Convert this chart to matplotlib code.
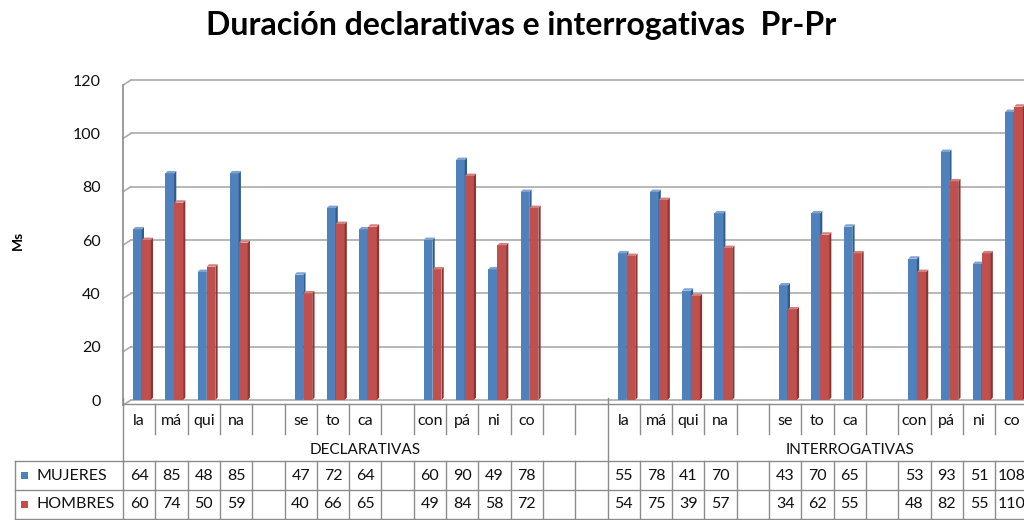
import numpy as np
import matplotlib
matplotlib.use('Agg')
import matplotlib.pyplot as plt
from matplotlib.patches import Polygon, Rectangle
from matplotlib.lines import Line2D

plt.rcParams['font.family'] = ['Lato', 'DejaVu Sans']

TITLE      = 'Duración declarativas e interrogativas  Pr-Pr'
Y_LABEL    = 'Ms'
GROUPS     = ['DECLARATIVAS', 'INTERROGATIVAS']
SYLLABLES  = ['la', 'má', 'qui', 'na', '', 'se', 'to', 'ca', '', 'con', 'pá', 'ni', 'co', '', '']
SERIES     = ['MUJERES', 'HOMBRES']
MUJ_DECL   = [64, 85, 48, 85, None, 47, 72, 64, None, 60, 90, 49, 78, None, None]
HOM_DECL   = [60, 74, 50, 59, None, 40, 66, 65, None, 49, 84, 58, 72, None, None]
MUJ_INT    = [55, 78, 41, 70, None, 43, 70, 65, None, 53, 93, 51, 108, None, None]
HOM_INT    = [54, 75, 39, 57, None, 34, 62, 55, None, 48, 82, 55, 110, None, None]
Y_TICKS    = [0, 20, 40, 60, 80, 100, 120]

BLUE      = '#4F81BD'
BLUE_DK   = '#2F5B8F'
BLUE_LT   = '#7FA3D0'
RED       = '#C0504D'
RED_DK    = '#8C3633'
RED_LT    = '#D47F7C'
GRID      = '#ABABAB'
TXT       = '#111111'

W, H = 1024, 520
X0, COLW = 123, 32.3
NCOL = len(SYLLABLES) * len(GROUPS)


def fx(x):
    return x / W


def fy(y):
    return 1 - y / H


def hline(fig, x1, x2, y, **kw):
    fig.add_artist(Line2D([fx(x1), fx(x2)], [fy(y), fy(y)], color=kw.get('color', '#8C8C8C'),
                          lw=kw.get('lw', 1.0)))


def vline(fig, x, y1, y2, **kw):
    fig.add_artist(Line2D([fx(x), fx(x)], [fy(y1), fy(y2)], color=kw.get('color', '#8C8C8C'),
                          lw=kw.get('lw', 1.0)))


fig = plt.figure(figsize=(W / 100, H / 100), dpi=100)
ax = fig.add_axes([fx(X0), fy(400), NCOL * COLW / W, 320 / H])
ax.set_xlim(-0.5, NCOL - 0.5)
ax.set_ylim(0, 120)
for s in ax.spines.values():
    s.set_visible(False)
ax.set_xticks([])
ax.set_yticks(Y_TICKS)
ax.set_yticklabels([str(t) for t in Y_TICKS], fontsize=11.5, color=TXT)
ax.tick_params(axis='y', length=0, pad=16)
ax.patch.set_alpha(0)

# 3D-ish walls: gridlines with a perspective kink at the left
DX, DY = 0.25, 1.9
for v in Y_TICKS:
    ax.plot([-0.5, -0.5 + DX], [v - DY, v], color=GRID, lw=1.2, clip_on=False, zorder=1)
    ax.plot([-0.5 + DX, NCOL - 0.5], [v, v], color=GRID, lw=1.2, clip_on=False, zorder=1)
ax.plot([-0.5, -0.5], [-DY, 120 - DY], color='#8C8C8C', lw=1.2, clip_on=False, zorder=1)

mujeres = MUJ_DECL + MUJ_INT
hombres = HOM_DECL + HOM_INT


def bar3d(ax, left, width, v, face, side, top):
    dxb, dyb = 0.07, 0.9
    ax.add_patch(Rectangle((left, 0), width, v, facecolor=face, edgecolor='none', zorder=3))
    ax.add_patch(Polygon([(left + width, 0), (left + width + dxb, dyb),
                          (left + width + dxb, v + dyb), (left + width, v)],
                         closed=True, facecolor=side, edgecolor='none', zorder=3))
    ax.add_patch(Polygon([(left, v), (left + dxb, v + dyb), (left + width + dxb, v + dyb),
                          (left + width, v)],
                         closed=True, facecolor=top, edgecolor='none', zorder=3))


for i in range(NCOL):
    if mujeres[i] is not None:
        bar3d(ax, i - 0.19, 0.27, mujeres[i], BLUE, BLUE_DK, BLUE_LT)
    if hombres[i] is not None:
        bar3d(ax, i + 0.09, 0.27, hombres[i], RED, RED_DK, RED_LT)

# title and axis label
fig.text(fx(521), fy(25), TITLE, ha='center', va='center', fontsize=23, fontweight='bold',
         color='black')
fig.text(fx(18), fy(240), Y_LABEL, ha='center', va='center', rotation=90, fontsize=10,
         fontweight='bold', color='black')

# data table underneath
ROW_TOP, ROW_CAT, ROW_GRP, ROW_M, ROW_H = 404, 434, 461, 490, 519
x_right = X0 + NCOL * COLW
hline(fig, X0, x_right, ROW_TOP)
hline(fig, 15, x_right, ROW_GRP)
hline(fig, 15, x_right, ROW_M)
hline(fig, 15, x_right, ROW_H)
vline(fig, 15, ROW_GRP, ROW_H)

n = len(SYLLABLES)
for g, name in enumerate(GROUPS):
    gx = X0 + g * n * COLW
    vline(fig, gx, 398, ROW_H)
    fig.text(fx(gx + n * COLW / 2), fy((ROW_CAT + ROW_GRP) / 2 + 2), name, ha='center',
             va='center', fontsize=11, color=TXT)
    for j, syl in enumerate(SYLLABLES):
        cx = gx + (j + 0.5) * COLW
        if j > 0:
            vline(fig, gx + j * COLW, ROW_TOP, ROW_CAT)
            vline(fig, gx + j * COLW, ROW_GRP, ROW_H)
        fig.text(fx(cx), fy((ROW_TOP + ROW_CAT) / 2 + 2), syl, ha='center', va='center',
                 fontsize=11.5, color=TXT)

for r, (label, vals, col) in enumerate([(SERIES[0], mujeres, BLUE), (SERIES[1], hombres, RED)]):
    y0 = [ROW_GRP, ROW_M][r]
    y1 = [ROW_M, ROW_H][r]
    yc = (y0 + y1) / 2
    fig.add_artist(Rectangle((fx(21), fy(yc + 3.5)), 7 / W, 7 / H, facecolor=col,
                             edgecolor='none', transform=fig.transFigure))
    fig.text(fx(37), fy(yc), label, ha='left', va='center', fontsize=11.5, color=TXT)
    for i, v in enumerate(vals):
        if v is None:
            continue
        fig.text(fx(X0 + (i + 0.5) * COLW), fy(yc), str(v), ha='center', va='center',
                 fontsize=11.5, color=TXT)

fig.savefig('out.png', dpi=100)
